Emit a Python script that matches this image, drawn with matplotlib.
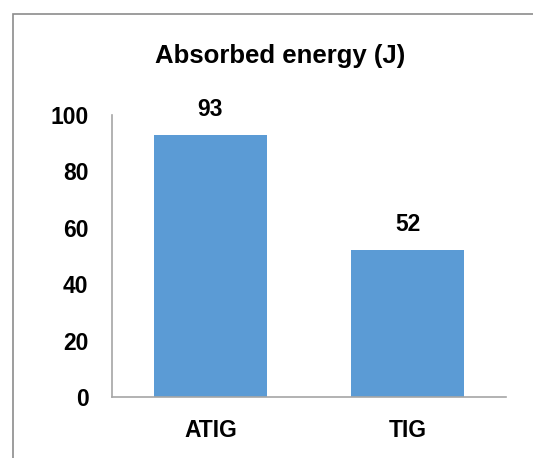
import matplotlib.pyplot as plt
from matplotlib.patches import Rectangle

categories = ["ATIG", "TIG"]
values = [93, 52]
yticks = [0, 20, 40, 60, 80, 100]

plt.rcParams["font.family"] = ["Liberation Sans", "DejaVu Sans"]
plt.rcParams["font.weight"] = "bold"

W, H = 533, 458
fig = plt.figure(figsize=(W / 100, H / 100), dpi=100)

# outer chart border (runs off the right/bottom edge like the reference)
fig.patches.append(Rectangle((13 / W, -0.05), 1.2, 1 - 14 / H + 0.05,
                             transform=fig.transFigure, fill=False,
                             edgecolor="#8c8c8c", linewidth=1.2))

ax = fig.add_axes([112 / W, 1 - 397 / H, (506 - 112) / W, (397 - 115) / H])
x = range(len(categories))
bars = ax.bar(x, values, width=0.574, color="#5b9bd5")
for b, v in zip(bars, values):
    ax.annotate(str(v), (b.get_x() + b.get_width() / 2, v), xytext=(0, 10),
                textcoords="offset points", ha="center", va="bottom",
                fontsize=16.5, fontweight="bold")

ax.set_xlim(-0.5, len(categories) - 0.5)
ax.set_ylim(0, 100)
ax.set_yticks(yticks)
ax.set_xticks(list(x))
ax.set_xticklabels(categories)
ax.tick_params(axis="both", length=0, labelsize=16.5)
ax.tick_params(axis="y", pad=17)
ax.tick_params(axis="x", pad=16)
for s in ["top", "right"]:
    ax.spines[s].set_visible(False)
for s in ["left", "bottom"]:
    ax.spines[s].set_color("#a6a6a6")
    ax.spines[s].set_linewidth(1.2)

fig.text(280 / W, 1 - 56 / H, "Absorbed energy (J)", ha="center", va="center",
         fontsize=18.5, fontweight="bold")

fig.savefig("out.png", dpi=100)
